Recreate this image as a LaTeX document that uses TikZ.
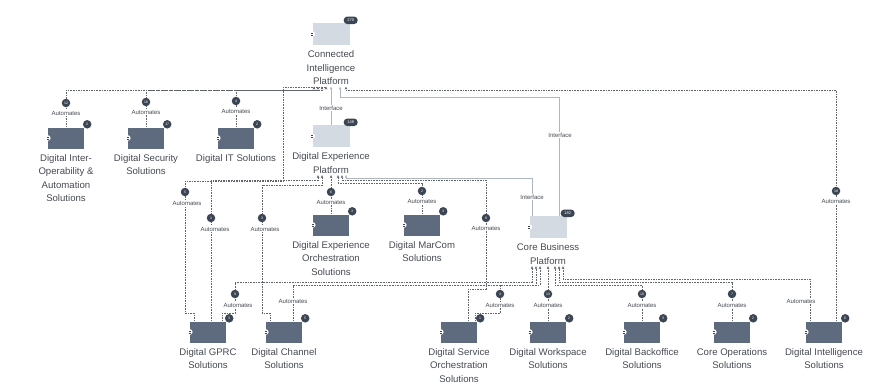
\documentclass[tikz,border=0pt]{standalone}
\usepackage{fontspec}
\setmainfont{Liberation Sans}
\usetikzlibrary{arrows.meta,calc}
\definecolor{dboxc}{HTML}{5E6A7E}
\definecolor{lboxc}{HTML}{D4DAE2}
\definecolor{badgec}{HTML}{3C4553}
\definecolor{txtc}{HTML}{464B53}
\definecolor{lnc}{HTML}{60656C}
\definecolor{lnlc}{HTML}{AEB6C1}
\tikzset{
 platbox/.style={rectangle, fill=lboxc, minimum width=37pt, minimum height=22pt, inner sep=0pt},
 solbox/.style={rectangle, fill=dboxc, minimum width=36pt, minimum height=21pt, inner sep=0pt},
 lbl/.style={font=\fontsize{9.6}{13.5}\selectfont, text=txtc, align=center, anchor=north, inner sep=0pt},
 conn/.style={draw=lnc, line width=0.6pt, dash pattern=on 1.6pt off 1pt, -{Stealth[length=3pt,width=2.6pt]}},
 iconn/.style={draw=lnlc, line width=0.7pt, -{Stealth[length=3pt,width=2.6pt]}},
 dotb/.style={circle, fill=badgec, minimum size=8.5pt, inner sep=0pt, text=white, font=\fontsize{3.5}{4}\selectfont},
 pillb/.style={rectangle, rounded corners=3.6pt, fill=badgec, minimum width=14pt, minimum height=7.5pt, inner sep=0pt, text=white, font=\fontsize{4}{4}\selectfont},
 rel/.style={font=\fontsize{6}{6.5}\selectfont, text=txtc, fill=white, inner sep=0.6pt},
}
\begin{document}
\begin{tikzpicture}[x=1pt,y=-1pt]
\useasboundingbox (0,0) rectangle (883,391);
\fill[white] (0,0) rectangle (883,391);
% boxes
\node[platbox] (cip) at (331,34) {};
\node[lbl] (cipL) at ([yshift=-5.5pt]cip.south) {Connected\\Intelligence\\Platform};
\node[platbox] (dxp) at (331,136) {};
\node[lbl] (dxpL) at ([yshift=-5.5pt]dxp.south) {Digital Experience\\Platform};
\node[platbox] (cbp) at (548,227) {};
\node[lbl] (cbpL) at ([yshift=-5.5pt]cbp.south) {Core Business\\Platform};
\node[solbox] (dio) at (66,138) {};
\node[lbl] (dioL) at ([yshift=-5.5pt]dio.south) {Digital Inter-\\Operability \&\\Automation\\Solutions};
\node[solbox] (dss) at (146,138) {};
\node[lbl] (dssL) at ([yshift=-5.5pt]dss.south) {Digital Security\\Solutions};
\node[solbox] (dit) at (236,138) {};
\node[lbl] (ditL) at ([yshift=-5.5pt]dit.south) {Digital IT Solutions};
\node[solbox] (dxos) at (331,225) {};
\node[lbl] (dxosL) at ([yshift=-5.5pt]dxos.south) {Digital Experience\\Orchestration\\Solutions};
\node[solbox] (dmc) at (422,225) {};
\node[lbl] (dmcL) at ([yshift=-5.5pt]dmc.south) {Digital MarCom\\Solutions};
\node[solbox] (gprc) at (208,332) {};
\node[lbl] (gprcL) at ([yshift=-5.5pt]gprc.south) {Digital GPRC\\Solutions};
\node[solbox] (dcs) at (284,332) {};
\node[lbl] (dcsL) at ([yshift=-5.5pt]dcs.south) {Digital Channel\\Solutions};
\node[solbox] (dsos) at (459,332) {};
\node[lbl] (dsosL) at ([yshift=-5.5pt]dsos.south) {Digital Service\\Orchestration\\Solutions};
\node[solbox] (dws) at (548,332) {};
\node[lbl] (dwsL) at ([yshift=-5.5pt]dws.south) {Digital Workspace\\Solutions};
\node[solbox] (dbo) at (642,332) {};
\node[lbl] (dboL) at ([yshift=-5.5pt]dbo.south) {Digital Backoffice\\Solutions};
\node[solbox] (cos) at (732,332) {};
\node[lbl] (cosL) at ([yshift=-5.5pt]cos.south) {Core Operations\\Solutions};
\node[solbox] (dis) at (824,332) {};
\node[lbl] (disL) at ([yshift=-5.5pt]dis.south) {Digital Intelligence\\Solutions};
% connectors to CIP
\draw[conn] (dio.north) -- (66,90) -| ([xshift=-17pt,yshift=-1.5pt]cipL.south);
\draw[conn] (dss.north) -- (146,90) -| ([xshift=-13pt,yshift=-1.5pt]cipL.south);
\draw[conn] (dit.north) -- (236,90) -| ([xshift=-9pt,yshift=-1.5pt]cipL.south);
\draw[conn] ([xshift=-14pt]gprc.north) -- (194,313) -- (185,313) -- (185,181) -- (283,181) -- (283,87) -| ([xshift=-5pt,yshift=-1.5pt]cipL.south);
\draw[iconn] (dxp.north) -- ([yshift=-1.5pt]cipL.south);
\draw[iconn] ([xshift=11pt]cbp.north) -- (559,97) -| ([xshift=9pt,yshift=-1.5pt]cipL.south);
\draw[conn] ([xshift=12pt]dis.north) -- (836,90) -| ([xshift=15pt,yshift=-1.5pt]cipL.south);
% connectors to DXP
\draw[conn] ([xshift=3pt]gprc.north) -- (211,180) -| ([xshift=-13pt,yshift=-1.5pt]dxpL.south);
\draw[conn] ([xshift=-14pt]dcs.north) -- (270,313) -- (262,313) -- (262,185) -| ([xshift=-9pt,yshift=-1.5pt]dxpL.south);
\draw[conn] (dxos.north) -- ([yshift=-1.5pt]dxpL.south);
\draw[conn] (dmc.north) -- (422,183) -| ([xshift=7pt,yshift=-1.5pt]dxpL.south);
\draw[conn] ([xshift=9pt]dsos.north) -- (468,289) -- (486,289) -- (486,180) -| ([xshift=11pt,yshift=-1.5pt]dxpL.south);
\draw[iconn] ([xshift=-16pt]cbp.north) -- (532,178) -| ([xshift=15pt,yshift=-1.5pt]dxpL.south);
% connectors to CBP
\draw[conn] ([xshift=14pt]gprc.north) -- (222,313) -- (235,313) -- (235,282) -| ([xshift=-16pt,yshift=-1.5pt]cbpL.south);
\draw[conn] ([xshift=9pt]dcs.north) -- (293,285) -| ([xshift=-12pt,yshift=-1.5pt]cbpL.south);
\draw[conn] ([xshift=16pt]dsos.north) -- (475,313) -- (500,313) -- (500,285) -| ([xshift=-8pt,yshift=-1.5pt]cbpL.south);
\draw[conn] (dws.north) -- ([yshift=-1.5pt]cbpL.south);
\draw[conn] (dbo.north) -- (642,285) -| ([xshift=7pt,yshift=-1.5pt]cbpL.south);
\draw[conn] (cos.north) -- (732,282) -| ([xshift=11pt,yshift=-1.5pt]cbpL.south);
\draw[conn] ([xshift=-14pt]dis.north) -- (810,279) -| ([xshift=15pt,yshift=-1.5pt]cbpL.south);
% relation labels
\foreach \px/\py/\num in {66/103/12, 146/102/16, 236/101/4, 185/192/5, 836/191/18, 211/218/1, 262/218/3, 331/192/6, 422/191/2, 486/218/8, 235/294/9, 500/294/4, 548/294/13, 642/294/10, 732/294/7}
  \node[dotb] at (\px,\py) {\num};
\foreach \px/\py in {66/113, 146/112, 236/111, 187/203, 836/201, 215/229, 265/229, 331/202, 422/201, 486/228, 238/305, 500/305, 548/305, 642/305, 732/305, 293/301, 801/301}
  \node[rel] at (\px,\py) {Automates};
\node[rel] at (331,108) {Interface};
\node[rel] at (560,135) {Interface};
\node[rel] at (532,197) {Interface};
% badges and notches
\foreach \n/\t in {cip/270, dxp/148, cbp/182}
  \node[pillb] at ([xshift=1pt,yshift=2.5pt]\n.north east) {\t};
\foreach \n/\t in {dio/2, dss/17, dit/2, dxos/3, dmc/3, gprc/3, dcs/5, dsos/1, dws/2, dbo/3, cos/2, dis/6}
  \node[dotb] at ([xshift=3pt,yshift=3pt]\n.north east) {\t};
\foreach \n in {cip, dxp, cbp, dio, dss, dit, dxos, dmc, gprc, dcs, dsos, dws, dbo, cos, dis} {
  \fill[white] (\n.west) circle (2.8pt);
  \draw[badgec, line width=0.4pt] ([xshift=-1pt,yshift=0.7pt]\n.west) -- ++(1.8pt,0pt);
  \draw[badgec, line width=0.4pt] ([xshift=-1pt,yshift=-0.7pt]\n.west) -- ++(1.8pt,0pt);
}
\end{tikzpicture}
\end{document}
